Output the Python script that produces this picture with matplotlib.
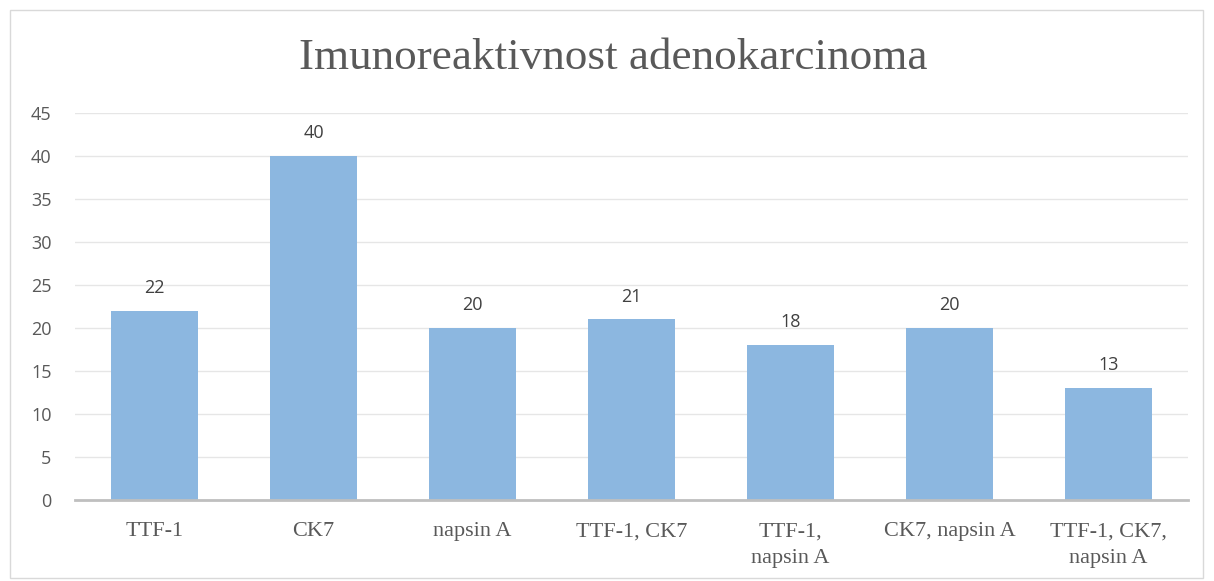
import matplotlib.pyplot as plt
from matplotlib.patches import Rectangle

categories = ['TTF-1', 'CK7', 'napsin A', 'TTF-1, CK7', 'TTF-1,\nnapsin A',
              'CK7, napsin A', 'TTF-1, CK7,\nnapsin A']
values = [22, 40, 20, 21, 18, 20, 13]
y_ticks = [0, 5, 10, 15, 20, 25, 30, 35, 40, 45]

fig = plt.figure(figsize=(12.14, 5.81), dpi=100)
fig.patches.append(Rectangle((0.008, 0.005), 0.983, 0.978, transform=fig.transFigure,
                             fill=False, edgecolor='#d9d9d9', linewidth=1.0))
ax = fig.add_axes([0.0618, 0.1394, 0.9168, 0.6661])

x = range(len(categories))
bars = ax.bar(x, values, width=0.55, color='#8cb7e0', zorder=3)

# value labels above each bar
for rect, v in zip(bars, values):
    ax.text(rect.get_x() + rect.get_width() / 2, v + 1.6, str(v), ha='center', va='bottom',
            fontsize=13, color='#404040', family='Open Sans')

ax.set_xlim(-0.5, len(categories) - 0.5)
ax.set_ylim(0, 45)
ax.set_yticks(y_ticks)
ax.set_yticklabels([str(t) for t in y_ticks], family='Open Sans', fontsize=13, color='#595959')
ax.set_xticks(list(x))
ax.set_xticklabels(categories, family='Liberation Serif', fontsize=16, color='#595959',
                   linespacing=1.55, va='top')
ax.tick_params(axis='both', length=0)
ax.tick_params(axis='x', pad=16)
ax.tick_params(axis='y', pad=17)
ax.grid(axis='y', color='#e6e6e6', linewidth=1.0, zorder=0)
for side in ['top', 'right', 'left']:
    ax.spines[side].set_visible(False)
ax.spines['bottom'].set_color('#bfbfbf')
ax.spines['bottom'].set_linewidth(2.0)
ax.spines['bottom'].set_zorder(4)

fig.text(0.505, 0.90, 'Imunoreaktivnost adenokarcinoma', ha='center', va='center',
         family='Liberation Serif', fontsize=32.5, color='#595959')

fig.savefig('out.png', dpi=100)
